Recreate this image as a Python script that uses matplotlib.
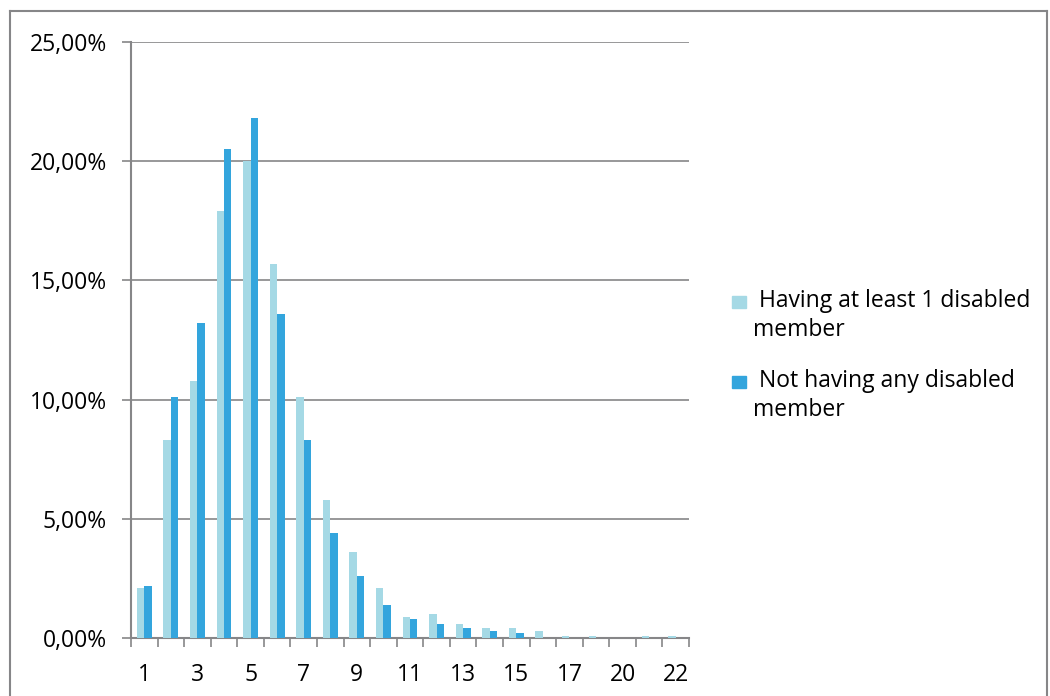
import matplotlib.pyplot as plt
import matplotlib.patches as mpatches
import matplotlib.lines as mlines
from matplotlib.ticker import FixedLocator, FuncFormatter
import numpy as np

plt.rcParams['font.family'] = ['Open Sans', 'DejaVu Sans']

# household size categories (19 is absent from the survey)
sizes = ['1', '2', '3', '4', '5', '6', '7', '8', '9', '10', '11', '12', '13',
         '14', '15', '16', '17', '18', '20', '21', '22']
# share of households (%) per size
with_disabled = [2.1, 8.3, 10.8, 17.9, 20.0, 15.7, 10.1, 5.8, 3.6, 2.1, 0.9,
                 1.0, 0.6, 0.4, 0.4, 0.3, 0.07, 0.07, 0.0, 0.07, 0.07]
without_disabled = [2.2, 10.1, 13.2, 20.5, 21.8, 13.6, 8.3, 4.4, 2.6, 1.4, 0.8,
                    0.6, 0.4, 0.3, 0.2, 0.0, 0.0, 0.0, 0.0, 0.0, 0.0]
series_names = [' Having at least 1 disabled\nmember', ' Not having any disabled\nmember']
colors = ['#a5d9e5', '#33a5dd']
yticks = [0, 5, 10, 15, 20, 25]

W, H = 1050, 696
fig = plt.figure(figsize=(W / 100, H / 100), dpi=100)
grey = '#868688'

# plot area in pixel terms
left, right, top, bottom = 131, 689, 42, 638
ax = fig.add_axes([left / W, 1 - bottom / H, (right - left) / W, (bottom - top) / H])

x = np.arange(len(sizes))
bw = 0.28
ax.bar(x - bw / 2, with_disabled, bw, color=colors[0], zorder=3)
ax.bar(x + bw / 2, without_disabled, bw, color=colors[1], zorder=3)

ax.set_xlim(-0.5, len(sizes) - 0.5)
ax.set_ylim(0, 25)

# y axis
ax.set_yticks(yticks)
ax.yaxis.set_major_formatter(FuncFormatter(lambda v, p: f'{v:.2f}%'.replace('.', ',')))
ax.tick_params(axis='y', length=6.5, width=1.2, color=grey, pad=11, labelsize=16.5,
               labelcolor='black')
ax.grid(axis='y', color=grey, lw=1.2, zorder=0)

# x axis: ticks between categories, labels on every other category
ax.xaxis.set_major_locator(FixedLocator(np.arange(-0.5, len(sizes), 1.0)))
ax.xaxis.set_major_formatter(FuncFormatter(lambda v, p: ''))
ax.xaxis.set_minor_locator(FixedLocator(x[::2]))
ax.set_xticklabels([sizes[i] for i in x[::2]], minor=True)
ax.tick_params(axis='x', which='major', length=6.5, width=1.2, color=grey)
ax.tick_params(axis='x', which='minor', length=0, pad=18, labelsize=16.5)

for s in ['top', 'right']:
    ax.spines[s].set_visible(False)
for s in ['left', 'bottom']:
    ax.spines[s].set_color(grey)
    ax.spines[s].set_linewidth(1.5)
ax.spines['left'].set_zorder(4)
ax.spines['bottom'].set_zorder(2)

# legend drawn by hand so the wrapped lines sit under the label
leg_y = [302, 382]
for name, c, y in zip(series_names, colors, leg_y):
    fig.patches.append(mpatches.Rectangle((732 / W, 1 - (y + 6) / H), 14 / W, 12 / H,
                                          transform=fig.transFigure, color=c))
    fig.text(753 / W, 1 - (y - 13) / H, name, fontsize=16.5, va='top', ha='left',
             linespacing=1.3)

# chart frame
for xs, ys in [([10, 10], [11, 700]), ([10, 1047], [11, 11]), ([1047, 1047], [11, 700])]:
    fig.lines.append(mlines.Line2D([v / W for v in xs], [1 - v / H for v in ys],
                                   transform=fig.transFigure, color=grey, lw=1.5))

fig.savefig('out.png', dpi=100)
